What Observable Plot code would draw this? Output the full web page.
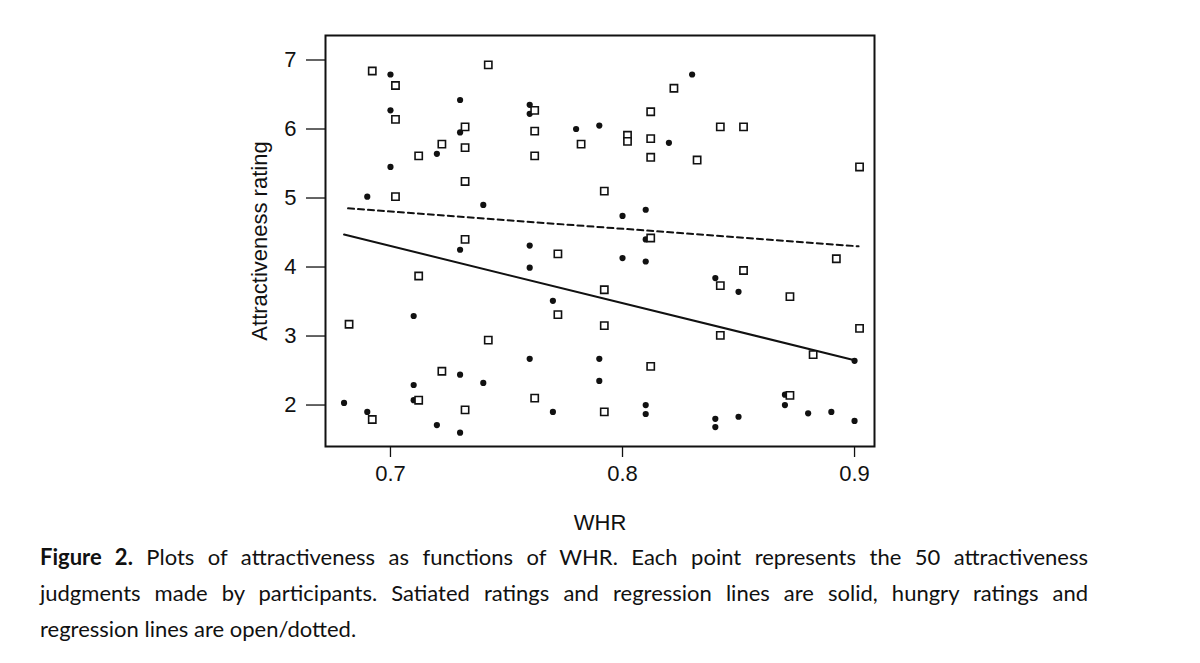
<!DOCTYPE html>
<html>
<head>
<meta charset="utf-8">
<script src="https://cdn.jsdelivr.net/npm/d3@7"></script>
<script src="https://cdn.jsdelivr.net/npm/@observablehq/plot@0.6"></script>
<style>
  html, body { margin: 0; padding: 0; background: #fff; }
  #chart svg { display: block; }
  #caption { margin: 4px 0 0 40px; width: 1048px; font-family: Lato, "Open Sans", sans-serif; font-size: 22px; line-height: 36px; color: #111; }
  #caption div { text-align: justify; text-align-last: justify; white-space: nowrap; }
  #caption div.last { text-align-last: left; }
</style>
</head>
<body>
<div id="chart"></div>
<div id="caption">
  <div><b>Figure 2.</b> Plots of attractiveness as functions of WHR. Each point represents the 50 attractiveness</div>
  <div>judgments made by participants. Satiated ratings and regression lines are solid, hungry ratings and</div>
  <div class="last">regression lines are open/dotted.</div>
</div>
<script>
// Satiated (filled circles): WHR and rating
const satiatedWHR = [
  0.68,
  0.69, 0.69,
  0.70, 0.70, 0.70,
  0.71, 0.71, 0.71,
  0.72, 0.72,
  0.73, 0.73, 0.73, 0.73, 0.73,
  0.74, 0.74,
  0.76, 0.76, 0.76, 0.76, 0.76,
  0.77, 0.77,
  0.78,
  0.79, 0.79, 0.79,
  0.80, 0.80,
  0.81, 0.81, 0.81, 0.81, 0.81,
  0.82,
  0.83,
  0.84, 0.84, 0.84,
  0.85, 0.85,
  0.87, 0.87,
  0.88,
  0.89,
  0.90, 0.90
];
const satiatedRating = [
  2.03,
  5.02, 1.90,
  6.79, 6.27, 5.45,
  3.29, 2.29, 2.07,
  5.64, 1.71,
  6.42, 5.95, 4.25, 2.44, 1.60,
  4.90, 2.32,
  6.35, 6.22, 4.31, 3.99, 2.67,
  3.51, 1.90,
  6.00,
  6.05, 2.67, 2.35,
  4.74, 4.13,
  4.83, 4.40, 4.08, 2.00, 1.87,
  5.80,
  6.79,
  3.84, 1.80, 1.68,
  3.64, 1.83,
  2.15, 2.00,
  1.88,
  1.90,
  2.64, 1.77
];
// Hungry (open squares): WHR and rating
const hungryWHR = [
  0.68,
  0.69, 0.69,
  0.70, 0.70, 0.70,
  0.71, 0.71, 0.71,
  0.72, 0.72,
  0.73, 0.73, 0.73, 0.73, 0.73,
  0.74, 0.74,
  0.76, 0.76, 0.76, 0.76,
  0.77, 0.77,
  0.78,
  0.79, 0.79, 0.79, 0.79,
  0.80, 0.80,
  0.81, 0.81, 0.81, 0.81, 0.81,
  0.82,
  0.83,
  0.84, 0.84, 0.84,
  0.85, 0.85,
  0.87, 0.87,
  0.88,
  0.89,
  0.90, 0.90
];
const hungryRating = [
  3.17,
  6.84, 1.79,
  6.63, 6.14, 5.02,
  5.61, 3.87, 2.07,
  5.78, 2.49,
  6.03, 5.73, 5.24, 4.40, 1.93,
  6.93, 2.94,
  6.27, 5.97, 5.61, 2.10,
  4.19, 3.31,
  5.78,
  5.10, 3.67, 3.15, 1.90,
  5.91, 5.82,
  6.25, 5.86, 5.59, 4.42, 2.56,
  6.59,
  5.55,
  6.03, 3.73, 3.01,
  6.03, 3.95,
  3.57, 2.14,
  2.73,
  4.12,
  5.45, 3.11
];
// Regression lines (endpoints)
const fitWHR = [0.68, 0.90];
const satiatedFit = [4.47, 2.65];
const hungryFit = [4.85, 4.30];

const xTicks = [0.7, 0.8, 0.9];
const yTicks = [2, 3, 4, 5, 6, 7];

const satiated = satiatedWHR.map((w, i) => ({whr: w, rating: satiatedRating[i]}));
const hungry = hungryWHR.map((w, i) => ({whr: w, rating: hungryRating[i]}));
const satFit = fitWHR.map((w, i) => ({whr: w, rating: satiatedFit[i]}));
const hunFit = fitWHR.map((w, i) => ({whr: w, rating: hungryFit[i]}));

const chart = Plot.plot({
  width: 1200,
  height: 535,
  marginLeft: 325,
  marginRight: 326,
  marginTop: 35,
  marginBottom: 89,
  style: {fontFamily: "'Liberation Sans', Arial, sans-serif", fontSize: "22px", color: "#111", background: "#fff"},
  x: {domain: [0.672, 0.9086]},
  y: {domain: [1.399, 7.355]},
  marks: [
    Plot.axisX({ticks: xTicks, tickFormat: d3.format(".1f"), tickSize: 11, tickPadding: 8, strokeWidth: 1.3, fontSize: 22,
      label: "WHR", labelAnchor: "center", labelOffset: 83, labelArrow: false}),
    Plot.axisY({ticks: yTicks, tickFormat: d3.format("d"), tickSize: 19, tickPadding: 10, strokeWidth: 1.3, fontSize: 22,
      label: "Attractiveness rating", labelAnchor: "center", labelOffset: 74, labelArrow: false}),
    Plot.frame({stroke: "#111", strokeWidth: 2}),
    Plot.line(satFit, {x: "whr", y: "rating", stroke: "#111", strokeWidth: 2}),
    Plot.line(hunFit, {x: "whr", y: "rating", stroke: "#111", strokeWidth: 2, strokeDasharray: "6,4", dx: 4}),
    Plot.dot(satiated, {x: "whr", y: "rating", r: 3.1, fill: "#111", stroke: "none"}),
    Plot.dot(hungry, {x: "whr", y: "rating", symbol: "square", r: 4.1, fill: "#fff", stroke: "#111", strokeWidth: 1.6, dx: 5})
  ]
});
document.getElementById("chart").appendChild(chart);
</script>
</body>
</html>
